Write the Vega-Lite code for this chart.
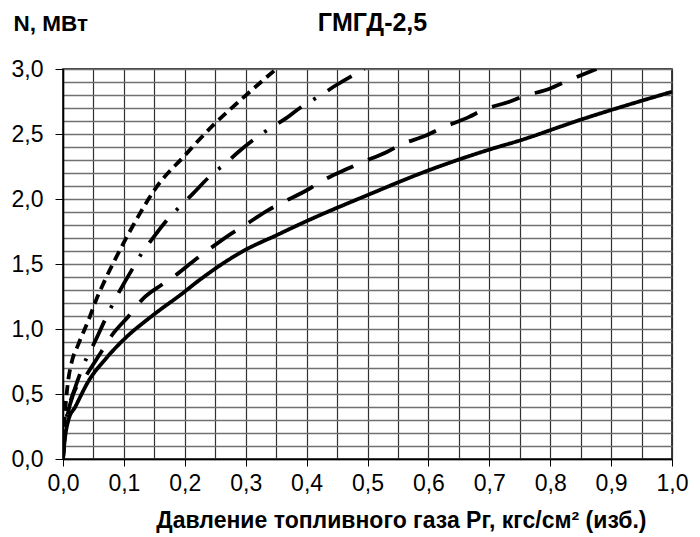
{
  "$schema": "https://vega.github.io/schema/vega-lite/v6.json",
  "autosize": "none",
  "padding": {"left": 63, "top": 69, "right": 28, "bottom": 78},
  "width": 609,
  "height": 390,
  "background": "white",
  "title": {"text": "ГМГД-2,5", "font": "Liberation Sans", "fontSize": 25, "fontWeight": "bold", "color": "#000", "anchor": "middle", "baseline": "alphabetic", "offset": -44, "dx": 5},
  "config": {
    "view": {"stroke": "#000", "strokeWidth": 1.5},
    "axis": {"labelFont": "Liberation Sans", "titleFont": "Liberation Sans", "labelColor": "#000", "titleColor": "#000", "domainColor": "#000", "tickColor": "#000"}
  },
  "data": {"values": [
    {"s": "a", "p": 0, "n": 0}, {"s": "a", "p": 0.003, "n": 0.15}, {"s": "a", "p": 0.009, "n": 0.3}, {"s": "a", "p": 0.02, "n": 0.4}, {"s": "a", "p": 0.042, "n": 0.6}, {"s": "a", "p": 0.07, "n": 0.77}, {"s": "a", "p": 0.1, "n": 0.92}, {"s": "a", "p": 0.146, "n": 1.1}, {"s": "a", "p": 0.195, "n": 1.27}, {"s": "a", "p": 0.225, "n": 1.38}, {"s": "a", "p": 0.3, "n": 1.61}, {"s": "a", "p": 0.35, "n": 1.72}, {"s": "a", "p": 0.4, "n": 1.83}, {"s": "a", "p": 0.5, "n": 2.03}, {"s": "a", "p": 0.6, "n": 2.22}, {"s": "a", "p": 0.7, "n": 2.38}, {"s": "a", "p": 0.75, "n": 2.45}, {"s": "a", "p": 0.85, "n": 2.61}, {"s": "a", "p": 1.0, "n": 2.825},
    {"s": "b", "p": 0, "n": 0}, {"s": "b", "p": 0.003, "n": 0.2}, {"s": "b", "p": 0.008, "n": 0.35}, {"s": "b", "p": 0.017, "n": 0.5}, {"s": "b", "p": 0.039, "n": 0.65}, {"s": "b", "p": 0.063, "n": 0.825}, {"s": "b", "p": 0.08, "n": 0.95}, {"s": "b", "p": 0.107, "n": 1.095}, {"s": "b", "p": 0.132, "n": 1.236}, {"s": "b", "p": 0.162, "n": 1.34}, {"s": "b", "p": 0.181, "n": 1.4}, {"s": "b", "p": 0.219, "n": 1.54}, {"s": "b", "p": 0.239, "n": 1.61}, {"s": "b", "p": 0.277, "n": 1.736}, {"s": "b", "p": 0.299, "n": 1.8}, {"s": "b", "p": 0.337, "n": 1.915}, {"s": "b", "p": 0.359, "n": 1.97}, {"s": "b", "p": 0.403, "n": 2.075}, {"s": "b", "p": 0.422, "n": 2.13}, {"s": "b", "p": 0.466, "n": 2.23}, {"s": "b", "p": 0.49, "n": 2.28}, {"s": "b", "p": 0.531, "n": 2.36}, {"s": "b", "p": 0.553, "n": 2.415}, {"s": "b", "p": 0.597, "n": 2.49}, {"s": "b", "p": 0.619, "n": 2.54}, {"s": "b", "p": 0.666, "n": 2.63}, {"s": "b", "p": 0.69, "n": 2.685}, {"s": "b", "p": 0.734, "n": 2.75}, {"s": "b", "p": 0.756, "n": 2.79}, {"s": "b", "p": 0.8, "n": 2.85}, {"s": "b", "p": 0.824, "n": 2.9}, {"s": "b", "p": 0.876, "n": 3.0},
    {"s": "c", "p": 0, "n": 0}, {"s": "c", "p": 0.004, "n": 0.25}, {"s": "c", "p": 0.01, "n": 0.4}, {"s": "c", "p": 0.02, "n": 0.55}, {"s": "c", "p": 0.039, "n": 0.78}, {"s": "c", "p": 0.05, "n": 0.88}, {"s": "c", "p": 0.07, "n": 1.08}, {"s": "c", "p": 0.088, "n": 1.25}, {"s": "c", "p": 0.1, "n": 1.35}, {"s": "c", "p": 0.115, "n": 1.47}, {"s": "c", "p": 0.129, "n": 1.58}, {"s": "c", "p": 0.146, "n": 1.69}, {"s": "c", "p": 0.178, "n": 1.877}, {"s": "c", "p": 0.195, "n": 1.954}, {"s": "c", "p": 0.213, "n": 2.04}, {"s": "c", "p": 0.247, "n": 2.2}, {"s": "c", "p": 0.266, "n": 2.27}, {"s": "c", "p": 0.285, "n": 2.35}, {"s": "c", "p": 0.323, "n": 2.49}, {"s": "c", "p": 0.344, "n": 2.556}, {"s": "c", "p": 0.366, "n": 2.62}, {"s": "c", "p": 0.389, "n": 2.7}, {"s": "c", "p": 0.406, "n": 2.75}, {"s": "c", "p": 0.427, "n": 2.81}, {"s": "c", "p": 0.449, "n": 2.877}, {"s": "c", "p": 0.495, "n": 3.0},
    {"s": "d", "p": 0, "n": 0}, {"s": "d", "p": 0.0033, "n": 0.35}, {"s": "d", "p": 0.006, "n": 0.5}, {"s": "d", "p": 0.0087, "n": 0.61}, {"s": "d", "p": 0.014, "n": 0.74}, {"s": "d", "p": 0.025, "n": 0.88}, {"s": "d", "p": 0.042, "n": 1.07}, {"s": "d", "p": 0.055, "n": 1.23}, {"s": "d", "p": 0.069, "n": 1.377}, {"s": "d", "p": 0.096, "n": 1.63}, {"s": "d", "p": 0.124, "n": 1.87}, {"s": "d", "p": 0.154, "n": 2.095}, {"s": "d", "p": 0.198, "n": 2.325}, {"s": "d", "p": 0.247, "n": 2.57}, {"s": "d", "p": 0.296, "n": 2.78}, {"s": "d", "p": 0.35, "n": 3.0}
  ]},
  "mark": {"type": "line", "interpolate": "monotone", "color": "#000", "strokeWidth": 3.8, "strokeCap": "butt", "clip": true},
  "encoding": {
    "x": {"field": "p", "type": "quantitative",
      "scale": {"domain": [0, 1], "nice": false, "zero": true},
      "axis": {
        "values": [0, 0.05, 0.1, 0.15, 0.2, 0.25, 0.3, 0.35, 0.4, 0.45, 0.5, 0.55, 0.6, 0.65, 0.7, 0.75, 0.8, 0.85, 0.9, 0.95, 1.0],
        "labelExpr": "round(datum.value*20)%2==0 ? replace(format(datum.value,'.1f'),'.',',') : ''",
        "tickOpacity": {"condition": {"test": "round(datum.value*20)%2==1", "value": 0}, "value": 1},
        "tickSize": 7, "tickWidth": 1, "labelPadding": 6, "labelFontSize": 23, "labelFlush": false, "labelOverlap": false,
        "grid": true, "gridColor": "#303030", "gridWidth": 1.2, "gridOpacity": 1,
        "domainWidth": 1.5,
        "title": "Давление топливного газа Рг, кгс/см² (изб.)",
        "titleFontSize": 23, "titleFontWeight": "bold",
        "titleAlign": "right", "titleAnchor": "end", "titleBaseline": "alphabetic",
        "titleX": 583, "titleY": 68
      }
    },
    "y": {"field": "n", "type": "quantitative",
      "scale": {"domain": [0, 3], "nice": false},
      "axis": {
        "values": [0, 0.1, 0.2, 0.3, 0.4, 0.5, 0.6, 0.7, 0.8, 0.9, 1.0, 1.1, 1.2, 1.3, 1.4, 1.5, 1.6, 1.7, 1.8, 1.9, 2.0, 2.1, 2.2, 2.3, 2.4, 2.5, 2.6, 2.7, 2.8, 2.9, 3.0],
        "labelExpr": "round(datum.value*10)%5==0 ? replace(format(datum.value,'.1f'),'.',',') : ''",
        "tickOpacity": {"condition": {"test": "round(datum.value*10)%5!=0", "value": 0}, "value": 1},
        "tickSize": 8, "tickWidth": 1, "labelPadding": 12, "labelFontSize": 23, "labelFlush": false, "labelOverlap": false,
        "grid": true, "gridColor": "#707070", "gridWidth": 1.5, "gridOpacity": 1,
        "domainWidth": 1.5,
        "title": "N, МВт", "titleAngle": 0, "titleFontSize": 22.5, "titleFontWeight": "bold",
        "titleAlign": "left", "titleBaseline": "alphabetic", "titleX": -50, "titleY": -39
      }
    },
    "strokeDash": {"field": "s", "type": "nominal",
      "scale": {"domain": ["a", "b", "c", "d"], "range": [[1, 0], [29, 16], [28, 14, 3, 14], [10, 6]]},
      "legend": null
    },
    "detail": {"field": "s"}
  }
}
